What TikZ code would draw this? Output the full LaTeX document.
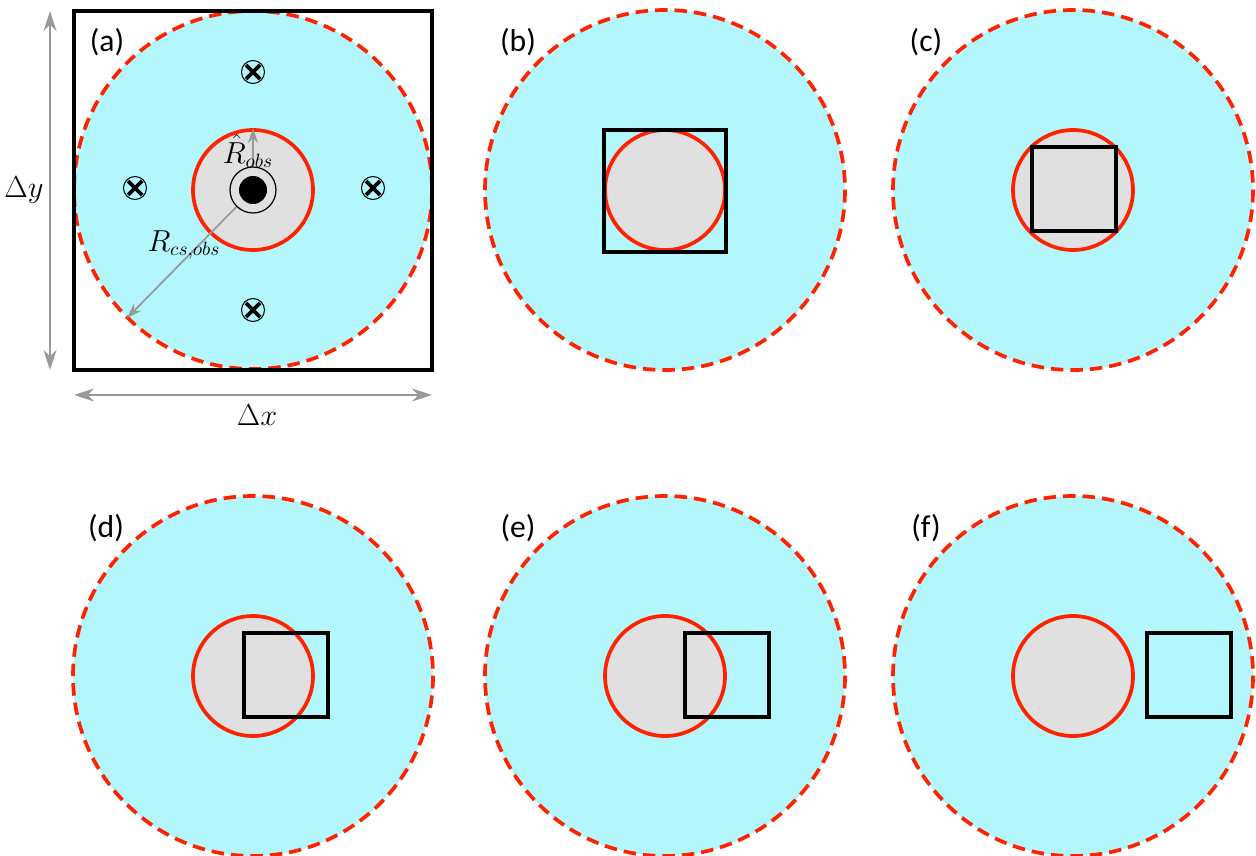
\documentclass[tikz,border=0pt]{standalone}
\usepackage{fontspec}
\setmainfont{Carlito}
\usepackage{tikz}
\usetikzlibrary{arrows.meta}
\definecolor{domaincyan}{HTML}{B3F6FB}
\definecolor{obsgray}{HTML}{E0E0E0}
\definecolor{obsred}{HTML}{FF2200}
\definecolor{dimgray}{HTML}{999999}

\tikzset{
  cutdomain/.style={fill=domaincyan},
  cutoff/.style={draw=obsred, line width=2.1pt, dash pattern=on 2.5mm off 1.4mm},
  obstacle/.style={draw=obsred, fill=obsgray, line width=2.1pt},
  cell/.style={draw=black, line width=2.1pt},
  dimline/.style={draw=dimgray, line width=1.1pt, {Stealth[length=4mm,width=2.6mm]}-{Stealth[length=4mm,width=2.6mm]}},
  radline/.style={draw=dimgray, line width=1pt, -{Stealth[length=3mm,width=2mm]}},
  panellabel/.style={font=\fontsize{18}{20}\selectfont},
  vortex/.style={draw=black, line width=0.6pt},
}

\begin{document}
\begin{tikzpicture}[x=0.02cm, y=-0.02cm]
  \useasboundingbox (0,0) rectangle (1256,855);

  % panel (a): cell, domain and obstacle
  \fill[cutdomain] (253,190) circle (179);
  \draw[cutoff] (253,190) circle (179);
  \draw[cell] (74,11) rectangle (432,370);
  \draw[obstacle] (253,190) circle (60);
  \coordinate (ca) at (253,190);
  \coordinate (rtip) at (253,128);
  \coordinate (ctip) at (127,318);
  \draw[radline] (ca) -- (rtip);
  \draw[radline] (ca) -- (ctip);
  \filldraw[fill=obsgray, draw=black, line width=0.7pt] (253,190) circle (23);
  \fill[black] (253,190) circle (14);
  \node (rhat) at (248,151) {\fontsize{16}{18}\selectfont$\hat{R}_{obs}$};
  \node (rcs) at (184,245) {\fontsize{16}{18}\selectfont$R_{cs,obs}$};

  % image vortices
  \foreach \vx/\vy in {253/72, 135/188, 373/188, 253/310} {
    \draw[vortex] (\vx,\vy) circle (11.5);
    \draw[line width=2.2pt] (\vx-7,\vy-7) -- (\vx+7,\vy+7);
    \draw[line width=2.2pt] (\vx-7,\vy+7) -- (\vx+7,\vy-7);
  }

  % cell dimensions
  \coordinate (yt) at (50,11);
  \coordinate (yb) at (50,370);
  \coordinate (xl) at (74,395);
  \coordinate (xr) at (432,395);
  \draw[dimline] (yt) -- (yb);
  \draw[dimline] (xl) -- (xr);
  \node (dy) at (24,190) {\fontsize{17}{20}\selectfont$\Delta y$};
  \node (dx) at (257,415) {\fontsize{17}{20}\selectfont$\Delta x$};
  \node[panellabel] (la) at (107,42) {(a)};

  % panels (b)-(f): obstacle against cell position
  \foreach \cx/\cy/\sx/\sy/\sw/\lab in {
      665/190/604/130/122/b,
      1073/190/1032/147/84/c,
      253/676/244/633/84/d,
      665/676/685/633/84/e,
      1073/676/1147/633/84/f} {
    \fill[cutdomain] (\cx,\cy) circle (180);
    \draw[cutoff] (\cx,\cy) circle (180);
    \draw[obstacle] (\cx,\cy) circle (60);
    \draw[cell] (\sx,\sy) rectangle ++(\sw,\sw);
    \node[panellabel] at (\cx-147,\cy-148) {(\lab)};
  }
\end{tikzpicture}
\end{document}
